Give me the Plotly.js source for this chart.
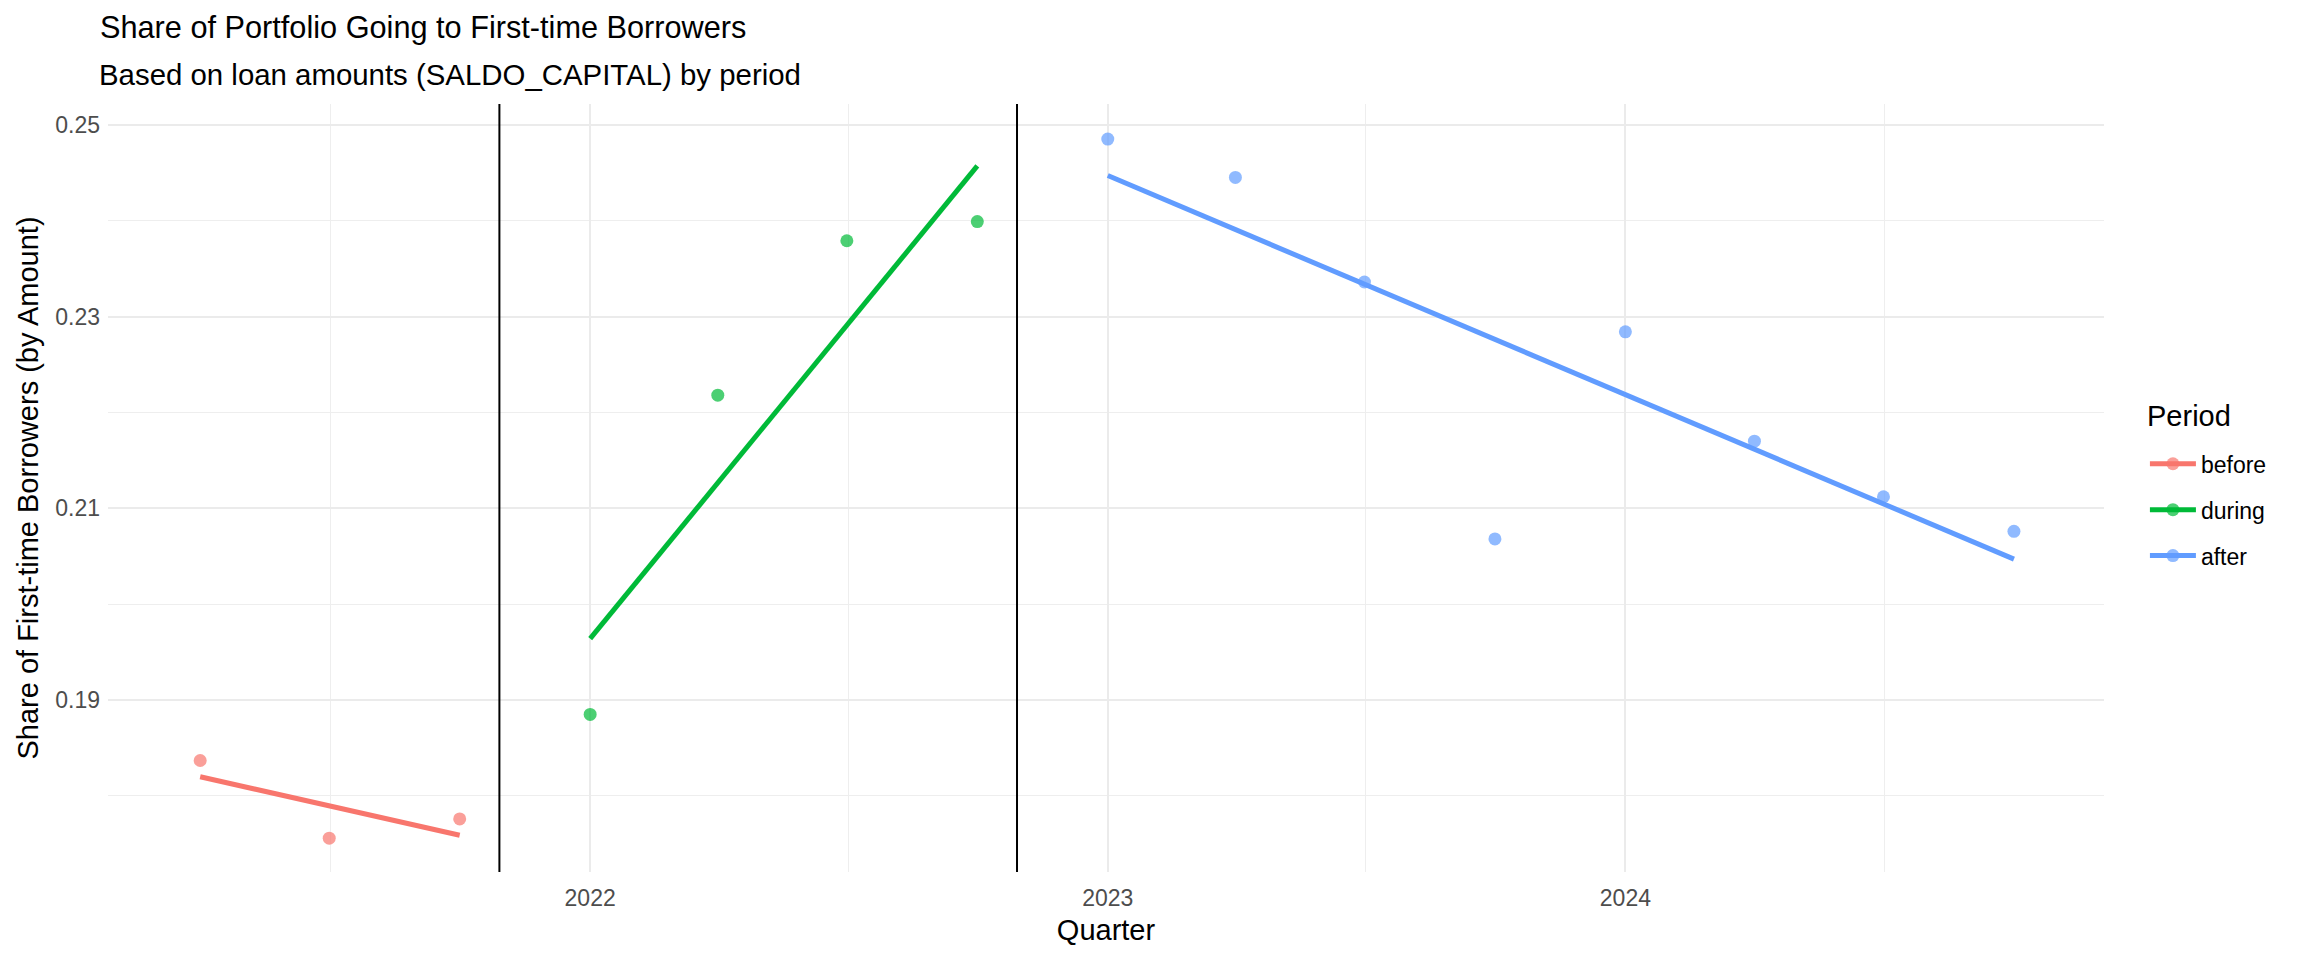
<!DOCTYPE html>
<html>
<head>
<meta charset="utf-8">
<script src="https://cdn.plot.ly/plotly-3.0.1.min.js"></script>
<style>
  html, body { margin: 0; padding: 0; background: #ffffff; }
  #chart { width: 2304px; height: 960px; }
</style>
</head>
<body>
<div id="chart"></div>
<script>
// ---- Data ----
const periods = ['before', 'during', 'after'];
const periodColors = ['#F8766D', '#00BA38', '#619CFF'];

const quartersBefore = ['2021-04-01', '2021-07-01', '2021-10-01'];
const shareBefore = [0.1837, 0.1756, 0.1776];

const quartersDuring = ['2022-01-01', '2022-04-01', '2022-07-01', '2022-10-01'];
const shareDuring = [0.1885, 0.2218, 0.2379, 0.2399];

const quartersAfter = ['2023-01-01', '2023-04-01', '2023-07-01', '2023-10-01',
                       '2024-01-01', '2024-04-01', '2024-07-01', '2024-10-01'];
const shareAfter = [0.2485, 0.2445, 0.2336, 0.2068, 0.2284, 0.2170, 0.2112, 0.2076];

// linear-fit line end values (first and last quarter of each period)
const fitBefore = [0.1820, 0.1759];
const fitDuring = [0.1964, 0.2457];
const fitAfter = [0.2447, 0.2047];

// period boundaries (vertical lines)
const periodCutoffs = ['2021-10-29', '2022-10-29'];

// ticks
const xTickVals = ['2022-01-01', '2023-01-01', '2024-01-01'];
const xTickText = ['2022', '2023', '2024'];
const xMinorVals = ['2021-07-02', '2022-07-02', '2023-07-02', '2024-07-02'];
const yTickVals = [0.19, 0.21, 0.23, 0.25];
const yMinorVals = [0.18, 0.20, 0.22, 0.24];

// ---- Traces ----
const FONT = 'Liberation Sans, Arial, sans-serif';
const groups = [
  {x: quartersBefore, y: shareBefore, fit: fitBefore},
  {x: quartersDuring, y: shareDuring, fit: fitDuring},
  {x: quartersAfter, y: shareAfter, fit: fitAfter}
];

const traces = [];
groups.forEach((g, i) => {
  traces.push({
    type: 'scatter', mode: 'lines',
    x: [g.x[0], g.x[g.x.length - 1]], y: g.fit,
    line: {color: periodColors[i], width: 5},
    showlegend: false, hoverinfo: 'skip'
  });
});
groups.forEach((g, i) => {
  traces.push({
    type: 'scatter', mode: 'markers',
    x: g.x, y: g.y,
    marker: {color: periodColors[i], size: 13, opacity: 0.7},
    showlegend: false
  });
});
// legend entries
periods.forEach((p, i) => {
  traces.push({
    type: 'scatter', mode: 'lines+markers',
    x: [null], y: [null], name: p,
    legendgroup: p,
    line: {color: periodColors[i], width: 5},
    marker: {color: periodColors[i], size: 13, opacity: 0.7}
  });
});

const shapes = periodCutoffs.map(d => ({
  type: 'line', xref: 'x', yref: 'paper',
  x0: d, x1: d, y0: 0, y1: 1,
  line: {color: '#000000', width: 2}
}));

const layout = {
  width: 2304, height: 960,
  margin: {l: 108, r: 200, t: 104, b: 88, pad: 0},
  paper_bgcolor: '#ffffff', plot_bgcolor: '#ffffff',
  font: {family: FONT, color: '#000000'},
  title: {
    text: 'Share of Portfolio Going to First-time Borrowers',
    font: {family: FONT, size: 30.7, color: '#000000'},
    x: 100 / 2304, xref: 'container', xanchor: 'left',
    y: 1 - 27 / 960, yref: 'container', yanchor: 'middle'
  },
  annotations: [{
    text: 'Based on loan amounts (SALDO_CAPITAL) by period',
    xref: 'paper', yref: 'paper', x: -11 / 1996, y: (872 - 74) / 768,
    xanchor: 'left', yanchor: 'middle', showarrow: false,
    font: {family: FONT, size: 29.4, color: '#000000'}
  }, {
    text: 'Period',
    xref: 'paper', yref: 'paper', x: (2145 - 108) / 1996, y: (872 - 416) / 768,
    xanchor: 'left', yanchor: 'middle', showarrow: false,
    font: {family: FONT, size: 29, color: '#000000'}
  }],
  xaxis: {
    type: 'date',
    range: ['2021-01-26', '2024-12-03 12:00'],
    tickmode: 'array', tickvals: xTickVals, ticktext: xTickText,
    tickfont: {family: FONT, size: 23, color: '#4D4D4D'},
    ticks: '', ticklabelstandoff: 10,
    showgrid: true, gridcolor: '#EBEBEB', gridwidth: 2,
    minor: {tickmode: 'array', tickvals: xMinorVals, showgrid: true, gridcolor: '#EEEEEE', gridwidth: 1},
    zeroline: false, showline: false,
    title: {text: 'Quarter', font: {family: FONT, size: 29, color: '#000000'}, standoff: 9}
  },
  yaxis: {
    range: [0.17207, 0.25216],
    tickmode: 'array', tickvals: yTickVals, ticktext: yTickVals.map(v => v.toFixed(2)),
    tickfont: {family: FONT, size: 23, color: '#4D4D4D'},
    ticks: '', ticklabelstandoff: 7,
    showgrid: true, gridcolor: '#EBEBEB', gridwidth: 2,
    minor: {tickmode: 'array', tickvals: yMinorVals, showgrid: true, gridcolor: '#EEEEEE', gridwidth: 1},
    zeroline: false, showline: false,
    title: {text: 'Share of First-time Borrowers (by Amount)', font: {family: FONT, size: 29, color: '#000000'}, standoff: 8}
  },
  shapes: shapes,
  showlegend: true,
  legend: {
    x: 1.0205, xanchor: 'left', y: 0.5595, yanchor: 'top',
    font: {family: FONT, size: 23, color: '#000000'},
    tracegroupgap: 13, itemwidth: 46,
    bgcolor: 'rgba(0,0,0,0)', borderwidth: 0
  }
};

Plotly.newPlot('chart', traces, layout, {displayModeBar: false, staticPlot: true});
</script>
</body>
</html>
